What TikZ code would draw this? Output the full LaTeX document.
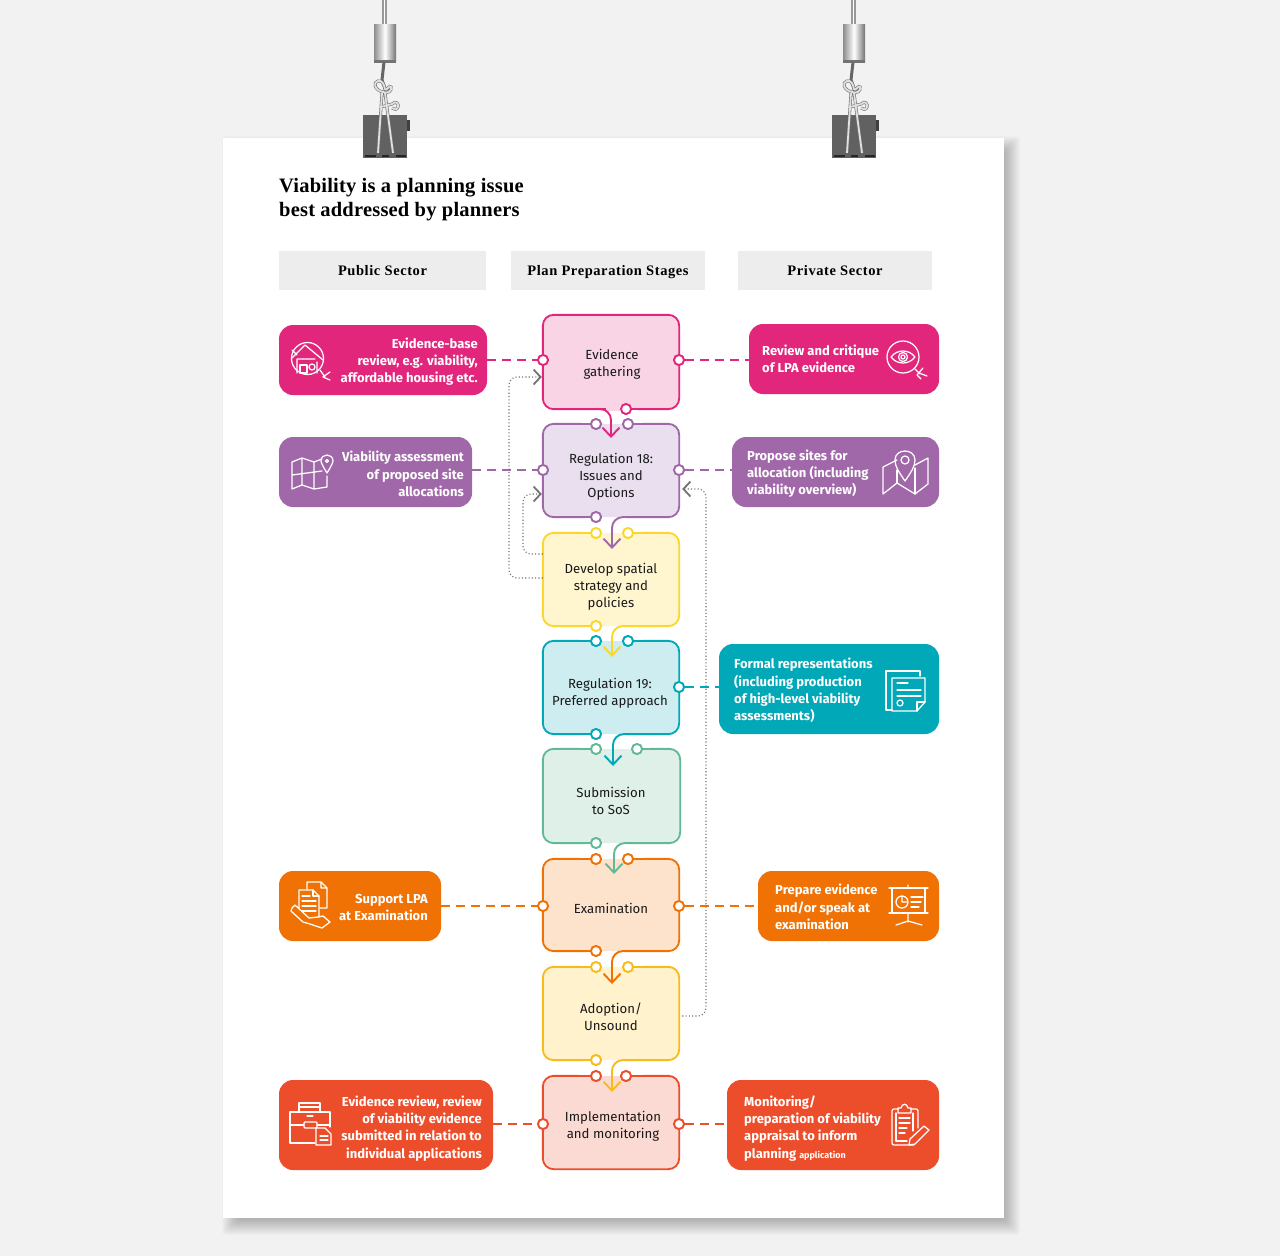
\documentclass[tikz,border=0pt]{standalone}
\usepackage{fontspec}
\setmainfont{Fira Sans}
\newfontfamily\serifb{Liberation Serif}[LetterSpace=1]
\newfontfamily\serifh{Liberation Serif}[LetterSpace=4]
\usetikzlibrary{arrows.meta,calc}
\definecolor{cpink}{HTML}{E2267B}\definecolor{fpink}{HTML}{F8D4E5}
\definecolor{cpur}{HTML}{A068A8}\definecolor{fpur}{HTML}{E9DFEE}
\definecolor{cyel}{HTML}{FBD729}\definecolor{fyel}{HTML}{FFF6CF}
\definecolor{cteal}{HTML}{00A8B8}\definecolor{fteal}{HTML}{CDEDF0}
\definecolor{cgrn}{HTML}{62B997}\definecolor{fgrn}{HTML}{DFF0E8}
\definecolor{cora}{HTML}{F07205}\definecolor{fora}{HTML}{FDE2CC}
\definecolor{cado}{HTML}{F8BC1A}\definecolor{fado}{HTML}{FFF2CC}
\definecolor{cred}{HTML}{EC4E2C}\definecolor{fred}{HTML}{FBDAD3}
\tikzset{x=1pt,y=-1pt,
 stagefill/.style={rectangle,inner sep=0pt,minimum width=136pt,minimum height=94pt,rounded corners=14pt},
 sidebox/.style={rectangle,inner sep=0pt,rounded corners=14pt},
 headbox/.style={rectangle,inner sep=0pt,fill=black!7,minimum height=39pt,text height=13pt,text depth=3pt,font=\serifh\bfseries\fontsize{14.5}{17}\selectfont},
 stagetext/.style={align=center,inner sep=0pt,text=black!90,font=\fontsize{13.2}{17}\selectfont},
 stext/.style={inner sep=0pt,text=white,font=\bfseries\fontsize{13}{17.2}\selectfont},
 port/.style={circle,draw=#1,fill=white,line width=1.8pt,inner sep=0pt,minimum size=10pt},
 outline/.style={line width=1.9pt,rounded corners=11pt},
 flow/.style={line width=1.9pt,rounded corners=11pt,-{Straight Barb[length=9pt,width=17pt,line width=1.9pt]}},
 dashlink/.style={line width=1.7pt,dash pattern=on 9pt off 6pt},
 dotlink/.style={line width=1.1pt,black!55,dash pattern=on 1.1pt off 2.2pt,rounded corners=8pt,
   -{Straight Barb[length=7pt,width=15pt,line width=1.8pt,black!55]}},
 ic/.style={white,line width=1.25pt,line join=round,line cap=round},
}
\newcommand{\hanger}[1]{%
 \begin{scope}[shift={(#1,0)}]
  \fill[black!40] (382,0) rectangle (387,24);
  \fill[white] (383.5,0) rectangle (385,24);
  \shade[left color=black!45,right color=black!55,middle color=white] (374,24) rectangle (396,62);
  \fill[black!55] (374,60) rectangle (396,63);
  \fill[black!75] (406,120) rectangle (410,131);
  \fill[black!62] (363,115) rectangle (407,158);
  \fill[black!85] (365,155) rectangle (376,157);
  \fill[black!85] (382,155) rectangle (389,157);
  \fill[black!85] (396,155) rectangle (406,157);
  \draw[black!60,line width=3pt] (384,62) -- (382,80) -- (386,92);
  \foreach \w/\c in {3/black!55,1.8/black!12}{
   \draw[\c,line width=\w pt,line join=round] (382,93) -- (378,153) (385,93) -- (393,153);
   \draw[\c,line width=\w pt] (383,92) .. controls (374,90) and (373,82) .. (378,81) .. controls (382,80) and (384,84) .. (385,89) .. controls (386,92) and (390,84) .. (391,87) .. controls (392,91) and (388,94) .. (383,92);
   \draw[\c,line width=\w pt] (381,107) -- (392,104) .. controls (396,100) and (399,104) .. (398,107) .. controls (397,110) and (394,110) .. (392,108);
  }
 \end{scope}}
\begin{document}
\begin{tikzpicture}
\useasboundingbox (0,0) rectangle (1280,1256);
\fill[black!5] (0,0) rectangle (1280,1256);
% shadow
\foreach \d in {0,...,16}{\fill[black,opacity=.014,rounded corners=3pt] (238-\d,152-\d) rectangle (1004+\d,1219+\d);}
\fill[white] (223,138) rectangle (1004,1218);
\hanger{0}\hanger{469}
% title
\node[anchor=west,inner sep=0pt,align=left,font=\serifb\bfseries\fontsize{20.5}{24}\selectfont] (title) at (279,199.5) {Viability is a planning issue\\best addressed by planners};
% headers
\node[headbox,minimum width=207pt] (h1) at (382.5,270.5) {Public Sector};
\node[headbox,minimum width=194pt] (h2) at (608,270.5) {Plan Preparation Stages};
\node[headbox,minimum width=194pt] (h3) at (835,270.5) {Private Sector};
% stage fills
\node[stagefill,fill=fpink] (s1) at (611,362) {};
\node[stagefill,fill=fpur,minimum height=93pt] (s2) at (611,470.5) {};
\node[stagefill,fill=fyel,minimum height=93pt] (s3) at (611,579.5) {};
\node[stagefill,fill=fteal,minimum height=93pt] (s4) at (611,687.5) {};
\node[stagefill,fill=fgrn,minimum width=137pt] (s5) at (611.5,796) {};
\node[stagefill,fill=fora,minimum height=92pt] (s6) at (611,905) {};
\node[stagefill,fill=fado,minimum height=93pt] (s7) at (611,1013.5) {};
\node[stagefill,fill=fred,minimum height=93pt] (s8) at (611,1122.5) {};
% tip coordinates
\coordinate (t1) at (611,438);
\coordinate (t2) at (612,549);
\coordinate (t3) at (612,657);
\coordinate (t4) at (613,766);
\coordinate (t5) at (614,874);
\coordinate (t6) at (612,984);
\coordinate (t7) at (612,1092);
% ports
\node[port=cpink] (p1l) at (543,360) {};\node[port=cpink] (p1r) at (679,360) {};\node[port=cpink] (p1b) at (626,409) {};
\node[port=cpur] (p2a) at (596,424) {};\node[port=cpur] (p2c) at (628,424) {};\node[port=cpur] (p2l) at (543,470) {};\node[port=cpur] (p2r) at (679,470) {};\node[port=cpur] (p2b) at (596,517) {};
\node[port=cyel] (p3a) at (596,533) {};\node[port=cyel] (p3c) at (628,533) {};\node[port=cyel] (p3b) at (596,626) {};
\node[port=cteal] (p4a) at (596,641) {};\node[port=cteal] (p4c) at (628,641) {};\node[port=cteal] (p4r) at (679,687) {};\node[port=cteal] (p4b) at (596,734) {};
\node[port=cgrn] (p5a) at (596,749) {};\node[port=cgrn] (p5c) at (637,749) {};\node[port=cgrn] (p5b) at (596,843) {};
\node[port=cora] (p6a) at (596,859) {};\node[port=cora] (p6c) at (628,859) {};\node[port=cora] (p6l) at (543,906) {};\node[port=cora] (p6r) at (679,906) {};\node[port=cora] (p6b) at (596,951) {};
\node[port=cado] (p7a) at (596,967) {};\node[port=cado] (p7c) at (628,967) {};\node[port=cado] (p7b) at (596,1060) {};
\node[port=cred] (p8a) at (596,1076) {};\node[port=cred] (p8c) at (626,1076) {};\node[port=cred] (p8l) at (543,1124) {};\node[port=cred] (p8r) at (679,1124) {};
% outlines and flows
\draw[outline,cpink] (p1b) -- (s1.south east) -- (s1.north east) -- (s1.north west) -- (s1.south west) -- (p1b);
\draw[fill=fpink,draw=none] (606,405) rectangle (622,411);
\draw[flow,cpink] (590,409) -- (611,409) -- (t1);
\draw[outline,cpur] (p2a) -- (s2.north west) -- (s2.south west) -- (p2b);
\draw[flow,cpur] (p2c) -- (s2.north east) -- (s2.south east) -- (612,517) -- (t2);
\draw[outline,cyel] (p3a) -- (s3.north west) -- (s3.south west) -- (p3b);
\draw[flow,cyel] (p3c) -- (s3.north east) -- (s3.south east) -- (612,626) -- (t3);
\draw[outline,cteal] (p4a) -- (s4.north west) -- (s4.south west) -- (p4b);
\draw[flow,cteal] (p4c) -- (s4.north east) -- (s4.south east) -- (613,734) -- (t4);
\draw[outline,cgrn] (p5a) -- (s5.north west) -- (s5.south west) -- (p5b);
\draw[flow,cgrn] (p5c) -- (s5.north east) -- (s5.south east) -- (614,843) -- (t5);
\draw[outline,cora] (p6a) -- (s6.north west) -- (s6.south west) -- (p6b);
\draw[flow,cora] (p6c) -- (s6.north east) -- (s6.south east) -- (612,951) -- (t6);
\draw[outline,cado] (p7a) -- (s7.north west) -- (s7.south west) -- (p7b);
\draw[flow,cado] (p7c) -- (s7.north east) -- (s7.south east) -- (612,1060) -- (t7);
\draw[outline,cred] (p8c) -- (s8.north east) -- (s8.south east) -- (s8.south west) -- (s8.north west) -- (p8a);
% redraw ports over outlines
\foreach \p/\c in {p1l/cpink,p1r/cpink,p1b/cpink,p2a/cpur,p2c/cpur,p2l/cpur,p2r/cpur,p2b/cpur,p3a/cyel,p3c/cyel,p3b/cyel,p4a/cteal,p4c/cteal,p4r/cteal,p4b/cteal,p5a/cgrn,p5c/cgrn,p5b/cgrn,p6a/cora,p6c/cora,p6l/cora,p6r/cora,p6b/cora,p7a/cado,p7c/cado,p7b/cado,p8a/cred,p8c/cred,p8l/cred,p8r/cred}{\draw[\c,fill=white,line width=1.8pt] (\p) circle (5);}
% stage text
\node[stagetext] (st1) at (612,364.5) {Evidence\\gathering};
\node[stagetext] (st2) at (611,477) {Regulation 18:\\Issues and\\Options};
\node[stagetext] (st3) at (611,587) {Develop spatial\\strategy and\\policies};
\node[stagetext] (st4) at (610,693.5) {Regulation 19:\\Preferred approach};
\node[stagetext] (st5) at (611,801) {Submission\\to SoS};
\node[stagetext] (st6) at (611,908) {Examination};
\node[stagetext] (st7) at (611,1017) {Adoption/\\Unsound};
\node[stagetext] (st8) at (613,1126) {Implementation\\and monitoring};
% side boxes
\node[sidebox,fill=cpink,minimum width=208pt,minimum height=70pt] (a1) at (383,360) {};
\node[sidebox,fill=cpink,minimum width=190pt,minimum height=70pt] (b1) at (844,359) {};
\node[sidebox,fill=cpur,minimum width=193pt,minimum height=70pt] (a2) at (375.5,472) {};
\node[sidebox,fill=cpur,minimum width=207pt,minimum height=70pt] (b2) at (835.5,472) {};
\node[sidebox,fill=cteal,minimum width=220pt,minimum height=90pt] (b4) at (829,689) {};
\node[sidebox,fill=cora,minimum width=162pt,minimum height=70pt] (a6) at (360,906) {};
\node[sidebox,fill=cora,minimum width=181pt,minimum height=70pt] (b6) at (848.5,906) {};
\node[sidebox,fill=cred,minimum width=214pt,minimum height=90pt] (a8) at (386,1125) {};
\node[sidebox,fill=cred,minimum width=212pt,minimum height=90pt] (b8) at (833,1125) {};
% side text
\node[stext,anchor=east,align=right] (at1) at (478,361.5) {Evidence-base\\review, e.g. viability,\\affordable housing etc.};
\node[stext,anchor=west,align=left] (bt1) at (762,359) {Review and critique\\of LPA evidence};
\node[stext,anchor=east,align=right] (at2) at (464,474) {Viability assessment\\of proposed site\\allocations};
\node[stext,anchor=west,align=left] (bt2) at (747,473.5) {Propose sites for\\allocation (including\\viability overview)};
\node[stext,anchor=west,align=left] (bt4) at (734,690.5) {Formal representations\\(including production\\of high-level viability\\assessments)};
\node[stext,anchor=east,align=right] (at6) at (428,907.5) {Support LPA\\at Examination};
\node[stext,anchor=west,align=left] (bt6) at (775,907) {Prepare evidence\\and/or speak at\\examination};
\node[stext,anchor=east,align=right] (at8) at (482,1128.5) {Evidence review, review\\of viability evidence\\submitted in relation to\\individual applications};
\node[stext,anchor=west,align=left] (bt8) at (744,1128.5) {Monitoring/\\preparation of viability\\appraisal to inform\\planning {\fontsize{9}{17}\selectfont application}};
% dashed links
\draw[dashlink,cpink] (a1.east |- p1l) -- (p1l);
\draw[dashlink,cpink] (p1r) -- (b1.west |- p1r);
\draw[dashlink,cpur] (a2.east |- p2l) -- (p2l);
\draw[dashlink,cpur] (p2r) -- (b2.west |- p2r);
\draw[dashlink,cteal] (p4r) -- (b4.west |- p4r);
\draw[dashlink,cora] (a6.east |- p6l) -- (p6l);
\draw[dashlink,cora] (p6r) -- (b6.west |- p6r);
\draw[dashlink,cred] (a8.east |- p8l) -- (p8l);
\draw[dashlink,cred] (p8r) -- (b8.west |- p8r);
% dotted feedback
\coordinate (f1) at (509,578);\coordinate (f2) at (509,377);\coordinate (f3) at (523,554);\coordinate (f4) at (523,494);\coordinate (f5) at (706,1016);\coordinate (f6) at (706,489);
\draw[dotlink] (s3.west |- f1) -- (f1) -- (f2) -- ($(s1.west |- f2)+(-1,0)$);
\draw[dotlink] (s3.west |- f3) -- (f3) -- (f4) -- ($(s2.west |- f4)+(-1,0)$);
\draw[dotlink] ($(s7.east |- f5)+(3,0)$) -- (f5) -- (f6) -- ($(s2.east |- f6)+(3,0)$);
% icons
\begin{scope}[ic]
 % house magnifier
 \draw (307.5,358.5) circle (16);
 \draw (292,358) -- (305,345) -- (323,360) (292,350) -- (297,355) (297,359) -- (297,373) (317,362) -- (317,373) (297,359) -- (315,359);
 \draw (300,365) rectangle (307,373);
 \draw (312,367) circle (3);
 \draw (320,370) -- (325,377) (330,372) -- (323,377) -- (330,380);
 % eye magnifier
 \draw (903,357) circle (16);
 \draw (891,357) .. controls (897,349) and (909,349) .. (915,357) .. controls (909,365) and (897,365) .. (891,357);
 \draw (903,357) circle (4.5) (903,357) circle (2);
 \draw (915,369) -- (920,374) (923,368) -- (917,375) -- (921,379) (919,373) -- (927,376);
 % map left
 \draw (292,462) -- (302,458) -- (314,462) -- (322,459) (292,462) -- (292,489) -- (302,485) -- (314,489) -- (327,487) -- (327,476) (302,458) -- (302,485) (314,462) -- (314,489) (292,475) -- (322,471);
 \draw (327,473) .. controls (322,465) and (321,462) .. (321,461) .. controls (321,453) and (333,453) .. (333,461) .. controls (333,462) and (332,465) .. (327,473);
 \draw (327,461) circle (1.5);
 % map right
 \draw (897,460) -- (883,467) -- (883,494) -- (897,483) -- (915,494) -- (928,484) -- (928,458) -- (915,465);
 \draw (897,483) -- (897,470) (915,494) -- (915,468);
 \draw (905,481) .. controls (899,472) and (895,467) .. (895,460) .. controls (895,448) and (915,448) .. (915,460) .. controls (915,467) and (911,472) .. (905,481);
 \draw (905,460) circle (4);
 % document
 \draw (892,710) -- (886,710) -- (886,671) -- (920,671) -- (920,676);
 \draw (892,678) -- (925,678) -- (925,702) -- (917,711) -- (892,711) -- cycle;
 \draw (925,702) -- (917,702) -- (917,711);
 \draw (897,683) -- (908,683) (897,690) -- (921,690) (897,696) -- (921,696);
 \draw (900,703) circle (3);
 % presentation
 \draw (889,888) -- (928,888) (889,913) -- (928,913) (892,888) -- (892,913) (925,888) -- (925,913);
 \draw (908,885) -- (908,888) (908,913) -- (908,922) (896,925) -- (908,921) -- (922,925);
 \draw (902,902) circle (6) (902,902) -- (902,896) (902,902) -- (908,902);
 \draw (911,897) -- (923,897) (911,902) -- (921,902) (911,907) -- (919,907);
 % support hand docs
 \draw (307,889) -- (307,882) -- (321,882) -- (327,888) -- (327,908) -- (320,908) (321,882) -- (321,888) -- (327,888);
 \draw (299,890) -- (313,890) -- (319,896) -- (319,917) (299,890) -- (299,908);
 \draw (313,890) -- (313,896) -- (319,896);
 \draw (302,896) -- (310,896) (302,901) -- (316,901) (302,906) -- (316,906) (302,911) -- (316,911);
 \draw (292,908) -- (295,905) -- (309,918) -- (318,917) -- (323,916) -- (330,922) -- (322,928) -- (310,924) -- (303,922) -- (291,911) -- cycle;
 % briefcase
 \draw (299,1112) -- (299,1103) -- (320,1103) -- (320,1112) (299,1107) -- (320,1107);
 \draw (315,1143) -- (290,1143) -- (290,1112) -- (330,1112) -- (330,1127);
 \draw (290,1125) -- (304,1125) (317,1125) -- (330,1125);
 \draw[rounded corners=1pt] (304,1122) rectangle (317,1128);
 \draw (307,1116) -- (313,1116);
 \draw (316,1145) -- (316,1128) -- (325,1128) -- (331,1134) -- (331,1145) -- cycle;
 \draw (320,1136) -- (328,1136) (320,1140) -- (328,1140);
 % clipboard
 \draw[rounded corners=2pt] (898,1109) -- (892,1109) -- (892,1145) -- (914,1145) (918,1128) -- (918,1109) -- (911,1109);
 \draw (898,1113) -- (898,1108) -- (901,1108) .. controls (902,1103) and (907,1103) .. (908,1108) -- (911,1108) -- (911,1113) -- cycle;
 \draw (896,1113) -- (896,1141) -- (907,1141) (913,1113) -- (913,1131);
 \draw (899,1118) -- (910,1118) (899,1123) -- (910,1123) (899,1128) -- (907,1128) (899,1133) -- (905,1133);
 \draw (910,1139) -- (924,1126) -- (929,1130) -- (915,1144) -- (909,1145) -- cycle;
\end{scope}
\end{tikzpicture}
\end{document}
